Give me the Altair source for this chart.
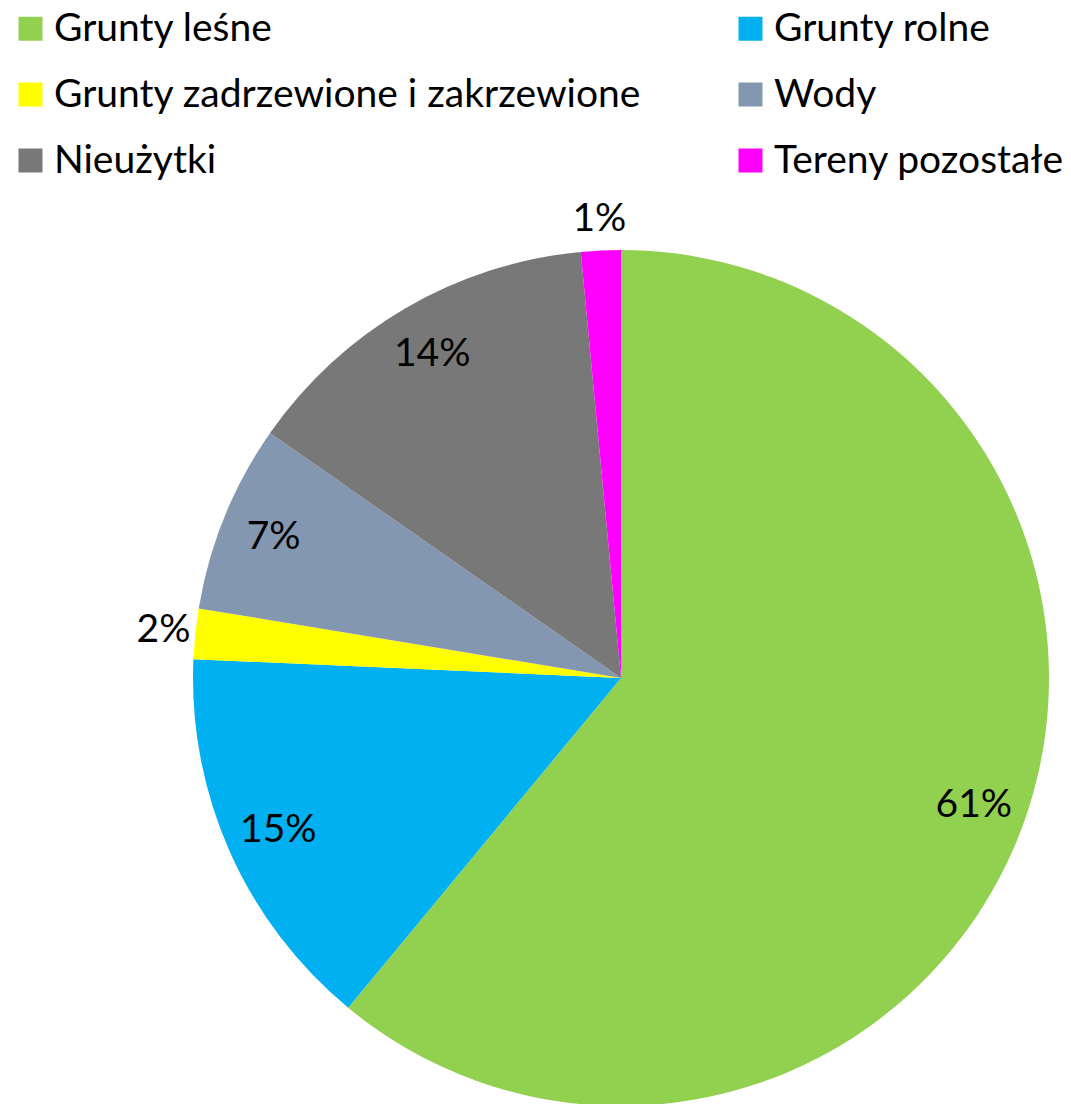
import altair as alt
import pandas as pd
import math

categories = ["Grunty leśne", "Grunty rolne", "Grunty zadrzewione i zakrzewione",
              "Wody", "Nieużytki", "Tereny pozostałe"]
values = [61.0, 14.7, 1.9, 7.1, 13.8, 1.5]
labels = ["61%", "15%", "2%", "7%", "14%", "1%"]
colors = ["#92D050", "#00B0F0", "#FFFF00", "#8497B0", "#787878", "#FF00FF"]

df = pd.DataFrame({
    "kat": categories,
    "wart": values,
    "etykieta": labels,
    "idx": list(range(len(categories))),
})

FONT = "Lato"
FS = 39
CX, CY = 613, 670

pie = alt.Chart(df).mark_arc(outerRadius=428, strokeWidth=0).encode(
    theta=alt.Theta("wart:Q", stack=True),
    order=alt.Order("idx:Q", sort="ascending"),
    x=alt.value(CX),
    y=alt.value(CY),
    color=alt.Color(
        "kat:N",
        scale=alt.Scale(domain=categories, range=colors),
        sort=categories,
        legend=alt.Legend(
            orient="none", legendX=3, legendY=1, columns=2,
            direction="horizontal",
            columnPadding=89, rowPadding=26, title=None,
            symbolType="square", symbolSize=576, symbolStrokeWidth=0,
            symbolOpacity=1, labelFont=FONT, labelFontSize=FS,
            labelColor="#000000", labelOffset=4, labelLimit=1000,
            padding=0,
        ),
    ),
)

text = alt.Chart(df).transform_window(
    cum="sum(wart)", sort=[alt.SortField("idx", order="ascending")]
).transform_joinaggregate(
    total="sum(wart)"
).transform_calculate(
    mid=f"(datum.cum - datum.wart / 2) / datum.total * 2 * {math.pi}",
    r="datum.wart < 3 ? 460 : 375",
).mark_text(font=FONT, fontSize=FS, color="#000000", align="center",
            baseline="middle").encode(
    x=alt.value(CX),
    y=alt.value(CY),
    theta=alt.Theta("mid:Q", scale=None, stack=False),
    radius=alt.Radius("r:Q", scale=None),
    text="etykieta:N",
)

chart = alt.layer(pie, text).properties(
    width=1055, height=1096, padding=0,
    autosize=alt.AutoSizeParams(type="none"),
).configure_view(stroke=None)

chart.save("out.html", embed_options={"renderer": "svg", "actions": False})
